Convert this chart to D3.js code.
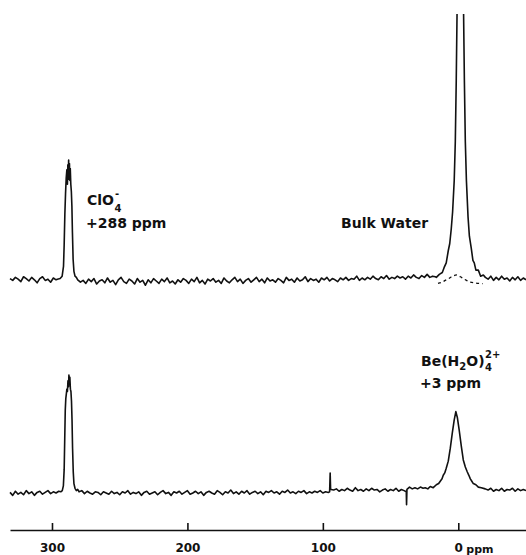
<!DOCTYPE html>
<html>
<head>
<meta charset="utf-8">
<script src="https://cdnjs.cloudflare.com/ajax/libs/d3/7.8.5/d3.min.js"></script>
<style>
body{margin:0;background:#fff;}
text{font-family:"DejaVu Sans",sans-serif;font-weight:bold;fill:#111;}
</style>
</head>
<body>
<div id="chart"></div>
<script>
// ppm ticks on the shift axis
var axisTicks = [300, 200, 100, 0];

// upper trace (bulk water present), [ppm, intensity]
var topBaseLeft = [[331,2],[329,0.5],[327,3],[325,1.5],[323,-0.5],[321,3.5],[319,2],[317,0],[315,3],[313,1],
  [311,-1.5],[309,2],[307,3.5],[305,0.5],[303,1.5],[301,-1],[299,2.5],[297,1]];
var topClO4 = [[296,1.5],[294,2],[292.5,4],[291.5,12],[291,30],[290.5,55],[290,72],[289.5,85],[289,92],[288.6,80],
  [288.3,96],[288,84],[287.7,100],[287.4,86],[287.1,97],[286.8,83],[286.5,93],[286.1,80],[285.7,74],[285.3,62],
  [284.9,40],[284.4,18],[283.8,8],[283,4],[282,3]];
var topBaseMid = [[281,1],[279,-1],[277,0.5],[275,-2],[273,1.5],[271,-0.5],[269,2],[267,-2.5],[265,0],[263,1],
  [261,-1.5],[259,2.5],[257,-1],[255,0.5],[253,-3],[251,1],[249,3],[247,-0.5],[245,-2],[243,1.5],
  [241,0],[239,-2.5],[237,2],[235,-1],[233,0.5],[231,-3.5],[229,1],[227,-1.5],[225,2],[223,0],
  [221,-2],[219,1.5],[217,-0.5],[215,2.5],[213,-1.5],[211,0],[209,-2.5],[207,1],[205,-1],[203,2],
  [201,0.5],[199,-2],[197,1.5],[195,-0.5],[193,3],[191,-1.5],[189,0.5],[187,-2.5],[185,1.5],[183,0],
  [181,2],[179,-1],[177,0.5],[175,-2],[173,2.5],[171,0],[169,-1.5],[167,1],[165,3],[163,-0.5],
  [161,1.5],[159,-2],[157,0.5],[155,2],[153,-1],[151,1],[149,3],[147,-0.5],[145,1.5],[143,-1.5],
  [141,2.5],[139,0],[137,1],[135,-1],[133,2],[131,0.5],[129,-1.5],[127,3],[125,0.5],[123,1.5],
  [121,-1],[119,2.5],[117,0],[115,1],[113,3.5],[111,-0.5],[109,2],[107,0.5],[105,1.5],[103,-1],
  [101,2.5],[99,1],[97,3],[95,0],[93,2],[91,1],[89,-0.5],[87,2.5],[85,1],[83,3],
  [81,0.5],[79,2],[77,1.5],[75,4],[73,0.5],[71,2.5],[69,1],[67,3],[65,1.5],[63,4],
  [61,2],[59,1],[57,3.5],[55,2],[53,4.5],[51,1.5],[49,3],[47,2],[45,4],[43,2.5],
  [41,3.5],[39,1.5],[37,4],[35,2.5],[33,5],[31,3],[29,2],[27,4.5],[25,3],[23,5.5],
  [21,3],[19,4],[17,3.5]];
var topWater = [[16.2,3],[14,5.5],[11.8,7],[10.5,11],[8.9,15],[7.4,25],[6.3,31],[5.2,43],[4.2,57],[3,83],
  [2.2,115],[1.5,166],[0.5,260],[-0.5,460],[-1.5,830],[-2.5,460],[-3.5,260],[-4.5,166],[-5.2,115],[-6,83],
  [-7.2,53],[-8.2,37],[-9.6,27],[-10.8,17],[-11.8,15],[-13,9],[-14.8,9],[-16.5,4],[-18.5,5]];
var topBaseRight = [[-20,3],[-22,1.5],[-24,4],[-26,0.5],[-28,3],[-30,1],[-32,4],[-34,1.5],[-36,2.5],[-38,0],
  [-40,3],[-42,1],[-44,3.5],[-46,0.5],[-48,2.5],[-50,1]];
// broad hump drawn dashed under the water line
var waterHump = [[15,-2],[12,-1],[9.6,0.5],[7,2],[5.2,3.3],[3,4.5],[1.5,5],[0,4.5],[-1.5,3.5],[-4,2],
  [-6,0.5],[-9,-1],[-12,-1.5],[-15,-2],[-18,-2.2]];

// lower trace (Be(H2O)4 2+), [ppm, intensity]
var botBaseLeft = [[331,0.5],[329,-2],[327,1.5],[325,-1],[323,0.5],[321,-1.5],[319,2],[317,-0.5],[315,1],[313,-2],
  [311,0.5],[309,1.5],[307,-1],[305,0.5],[303,2],[301,-0.5],[299,1],[297,0],[295,1.5],[293.5,1]];
var botClO4 = [[292.4,2],[291.6,6],[291,20],[290.6,45],[290.2,70],[289.8,80],[289.4,84],[289,88],[288.6,86],[288.2,95],
  [287.8,90],[287.5,100],[287.2,92],[286.8,98],[286.4,88],[286,86],[285.6,78],[285.2,62],[284.8,38],[284.3,18],
  [283.8,8],[283,4],[282,2]];
var botBaseMid = [[281,3],[280,1],[278,2],[276,-0.5],[274,1.5],[272,0],[270,-1],[268,1],[266,0.5],[264,-1.5],
  [262,1],[260,0],[258,-1],[256,1.5],[254,-0.5],[252,0.5],[250,-1.5],[248,1],[246,0],[244,2],
  [242,-1],[240,0.5],[238,-0.5],[236,1],[234,-2],[232,0.5],[230,1.5],[228,-1],[226,0],[224,1],
  [222,-1.5],[220,0.5],[218,2],[216,-0.5],[214,0.5],[212,-2],[210,1],[208,0],[206,1.5],[204,-1],
  [202,0.5],[200,2],[198,-1],[196,0],[194,1.5],[192,-0.5],[190,1],[188,-2],[186,0.5],[184,1.5],
  [182,0],[180,-1],[178,2],[176,0.5],[174,-1.5],[172,1],[170,0],[168,2.5],[166,-0.5],[164,1],
  [162,-1],[160,1.5],[158,0],[156,2],[154,-1],[152,0.5],[150,1.5],[148,-0.5],[146,1],[144,-1.5],
  [142,1.5],[140,0.5],[138,2],[136,0],[134,1],[132,-1],[130,1.5],[128,0.5],[126,2.5],[124,0],
  [122,1],[120,-0.5],[118,1.5],[116,0.5],[114,2],[112,-0.5],[110,1],[108,0],[106,1.5],[104,0.5],
  [102,2],[100,0],[98,1],[96,0.5],[95,1],[94.6,17],[94.3,4],[94,3],[92,2.5],[90,3.5],
  [88,1.5],[86,3],[84,2],[82,4],[80,2.5],[78,1.5],[76,4.5],[74,2],[72,3],[70,1.5],
  [68,3.5],[66,2],[64,4],[62,2.5],[60,3],[58,1],[56,2.5],[54,3.5],[52,1.5],[50,3],
  [48,2],[46,4],[44,1.5],[42,3],[40,2],[38.4,1],[38.2,-10],[37.9,3],[36,5],[34,3.5],
  [32,4.5],[30,3.5],[28,5],[26,4]];
var botBe = [[24.4,4.5],[22.5,3.5],[20.7,5.5],[18.5,4.5],[16.2,7],[14.5,8],[13.3,10],[12,12],[11.1,15],[10,17],
  [8.9,21],[7.4,27],[5.9,38],[4.4,51],[3,62],[1.8,69],[0.7,64],[-0.7,53],[-2.2,40],[-3.7,28],
  [-5.2,22],[-6.6,18],[-7.8,15],[-8.9,12],[-10,10],[-11.1,8],[-13,7],[-14.8,5],[-17,4.5],[-19.9,3.5]];
var botBaseRight = [[-22,2.5],[-24,4],[-26,1.5],[-28,3],[-30,2],[-32,4],[-34,1.5],[-36,3],[-38,2.5],[-40,4],
  [-42,1.5],[-44,3.5],[-46,2],[-48,3],[-50,2]];

function DrawSpectra(){
    var width = 526;
    var height = 555;

    var x = d3.scaleLinear().domain([331,-50]).range([10,526]);
    var yTop = d3.scaleLinear().domain([0,100]).range([281,160]);
    var yBottom = d3.scaleLinear().domain([0,100]).range([493,375]);

    var svg = d3.select("#chart").append("svg")
        .attr("width", width)
        .attr("height", height);

    svg.append("clipPath").attr("id","clipTop")
        .append("rect").attr("x",0).attr("y",14).attr("width",width).attr("height",300);

    var topSpectrum = topBaseLeft.concat(topClO4, topBaseMid, topWater, topBaseRight);
    var botSpectrum = botBaseLeft.concat(botClO4, botBaseMid, botBe, botBaseRight);

    var lineTop = d3.line().x(d=>x(d[0])).y(d=>yTop(d[1]));
    var lineBottom = d3.line().x(d=>x(d[0])).y(d=>yBottom(d[1]));

    svg.append("path").datum(topSpectrum)
        .attr("d", lineTop)
        .attr("clip-path","url(#clipTop)")
        .attr("fill","none").attr("stroke","#111").attr("stroke-width",1.6)
        .attr("stroke-linejoin","round");

    svg.append("path").datum(waterHump)
        .attr("d", d3.line().curve(d3.curveMonotoneX).x(d=>x(d[0])).y(d=>yTop(d[1])))
        .attr("fill","none").attr("stroke","#111").attr("stroke-width",1.3)
        .attr("stroke-dasharray","3,3");

    svg.append("path").datum(botSpectrum)
        .attr("d", lineBottom)
        .attr("fill","none").attr("stroke","#111").attr("stroke-width",1.6)
        .attr("stroke-linejoin","round");

    // shift axis, ticks pointing up, labels underneath
    var xAxis = d3.axisBottom(x)
        .tickValues(axisTicks)
        .tickSize(-7)
        .tickSizeOuter(0)
        .tickPadding(13)
        .tickFormat(d3.format("d"));

    var ax = svg.append("g")
        .attr("transform","translate(0,530)")
        .call(xAxis);
    ax.select(".domain").attr("stroke","#111").attr("stroke-width",1.4);
    ax.selectAll(".tick line").attr("stroke","#111").attr("stroke-width",1.6);
    ax.selectAll(".tick text")
        .attr("font-size",12)
        .attr("font-family","DejaVu Sans, sans-serif")
        .attr("font-weight","bold")
        .attr("fill","#111");
    svg.append("text")
        .attr("x", x(0)+8).attr("y",553)
        .attr("font-size",11)
        .text("ppm");

    // labels
    var clo = svg.append("text").attr("x",87).attr("y",205).attr("font-size",14).text("ClO");
    var cloEnd = 87 + clo.node().getComputedTextLength();
    svg.append("text").attr("x",cloEnd+0.5).attr("y",212).attr("font-size",10).text("4");
    svg.append("text").attr("x",cloEnd+1).attr("y",197).attr("font-size",10).text("-");
    svg.append("text").attr("x",86).attr("y",228).attr("font-size",14).text("+288 ppm");

    svg.append("text").attr("x",341).attr("y",228).attr("font-size",14).text("Bulk Water");

    var be = svg.append("text").attr("x",421).attr("y",366).attr("font-size",14);
    be.append("tspan").text("Be(H");
    be.append("tspan").attr("font-size",10).attr("dy",4).text("2");
    be.append("tspan").attr("dy",-4).text("O)");
    var beEnd = 421 + be.node().getComputedTextLength();
    svg.append("text").attr("x",beEnd+0.5).attr("y",371).attr("font-size",10).text("4");
    svg.append("text").attr("x",beEnd+0.5).attr("y",358).attr("font-size",10).text("2+");
    svg.append("text").attr("x",420).attr("y",388).attr("font-size",14).text("+3 ppm");
}

DrawSpectra();
</script>
</body>
</html>
